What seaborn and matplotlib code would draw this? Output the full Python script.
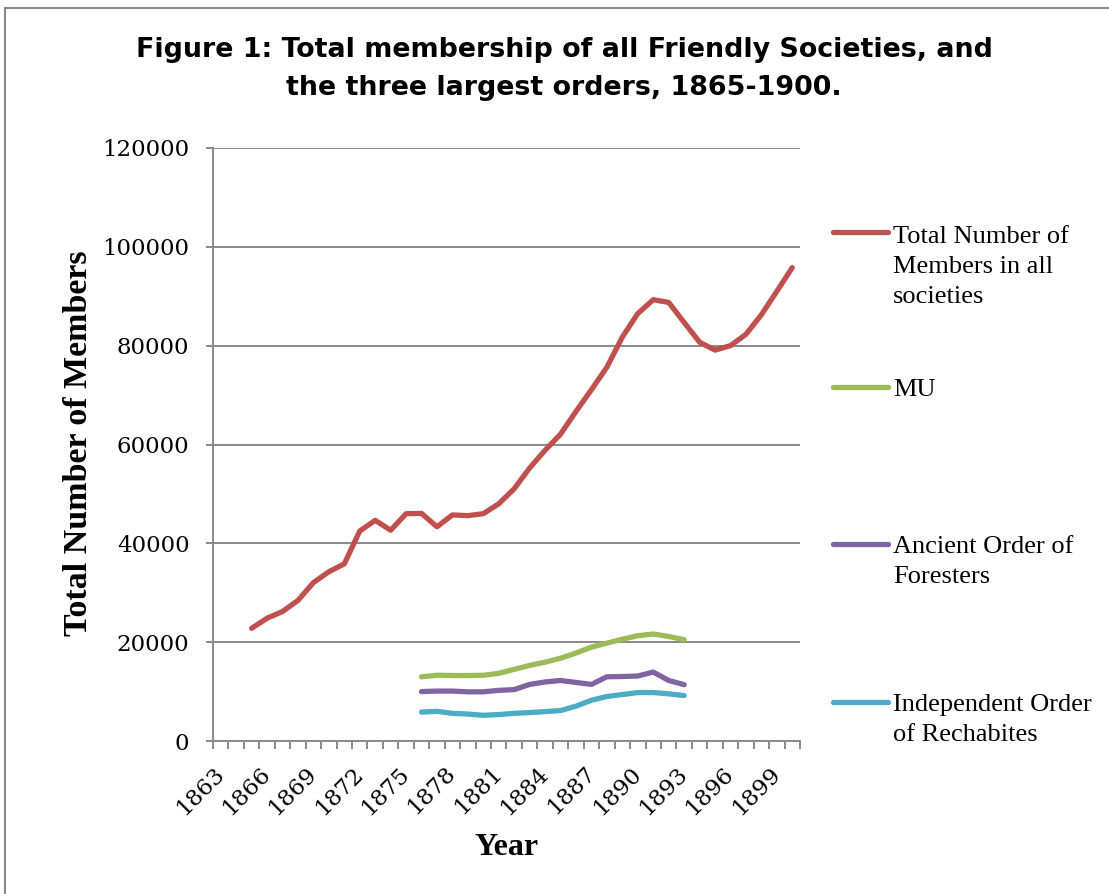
import matplotlib
matplotlib.use("Agg")
import matplotlib.pyplot as plt
import seaborn as sns
import pandas as pd
from matplotlib.lines import Line2D
from matplotlib.patches import Rectangle
from matplotlib.ticker import FixedLocator, MultipleLocator

# ---- data -------------------------------------------------------------
total_years = list(range(1865, 1901))
total_members = [22800, 24850, 26200, 28450, 32050, 34250, 35850, 42500,
                 44650, 42650, 46000, 46050, 43350, 45750, 45600, 46000,
                 48000, 51050, 55250, 58850, 62100, 66700, 71100, 75650,
                 81750, 86500, 89300, 88750, 84700, 80700, 79100, 80000,
                 82300, 86250, 91000, 95800]

order_years = list(range(1876, 1894))
mu_members = [12990, 13300, 13250, 13250, 13300, 13700, 14500, 15300, 15950,
              16750, 17800, 19000, 19800, 20600, 21300, 21650, 21150, 20500]
foresters_members = [10000, 10100, 10100, 9950, 9950, 10250, 10400, 11450,
                     11950, 12250, 11850, 11450, 13000, 13050, 13150, 13950,
                     12250, 11400]
rechabites_members = [5850, 6000, 5600, 5450, 5200, 5350, 5600, 5750, 5950,
                      6150, 7050, 8250, 9000, 9400, 9800, 9800, 9550, 9200]

series_names = ["Total Number of Members in all societies", "MU",
                "Ancient Order of Foresters", "Independent Order of Rechabites"]
legend_labels = ["Total Number of\nMembers in all\nsocieties", "MU",
                 "Ancient Order of\nForesters", "Independent Order\nof Rechabites"]
series_colors = ["#C0504D", "#9BBB59", "#8064A2", "#4BACC6"]

year_ticks = list(range(1863, 1900, 3))
y_ticks = list(range(0, 120001, 20000))

frames = []
for name, yrs, vals in zip(series_names,
                           [total_years, order_years, order_years, order_years],
                           [total_members, mu_members, foresters_members,
                            rechabites_members]):
    frames.append(pd.DataFrame({"Year": yrs, "Members": vals, "Series": name}))
df = pd.concat(frames, ignore_index=True)

# ---- figure -----------------------------------------------------------
W, H = 1109, 894
sns.set_theme(style="white")
plt.rcParams["font.family"] = ["DejaVu Serif"]
plt.rcParams["text.color"] = "black"
plt.rcParams["axes.labelcolor"] = "black"

fig = plt.figure(figsize=(W / 100, H / 100), dpi=100)
fig.patch.set_facecolor("white")

def px(x, y):
    return x / W, 1 - y / H

ax = fig.add_axes([213 / W, 1 - 741 / H, (800 - 213) / W, (741 - 148) / H])

grey = "#898989"
ax.yaxis.grid(True, color=grey, linewidth=1.4)
ax.set_axisbelow(True)

sns.lineplot(data=df, x="Year", y="Members", hue="Series",
             hue_order=series_names, palette=series_colors,
             linewidth=3.8, legend=False, ax=ax,
             solid_capstyle="round", solid_joinstyle="round")

ax.set_xlim(1862.5, 1900.5)
ax.set_ylim(0, 120000)

for side in ("top", "right"):
    ax.spines[side].set_visible(False)
for side in ("left", "bottom"):
    ax.spines[side].set_color(grey)
    ax.spines[side].set_linewidth(1.4)

ax.yaxis.set_major_locator(FixedLocator(y_ticks))
ax.set_yticklabels([str(v) for v in y_ticks])
ax.tick_params(axis="y", which="major", left=True, length=5, width=1.4,
               color=grey, pad=12, labelsize=16.5, labelcolor="black")

ax.xaxis.set_major_locator(FixedLocator(year_ticks))
ax.set_xticklabels([str(y) for y in year_ticks], rotation=45,
                   ha="right", va="center", rotation_mode="anchor")
ax.xaxis.set_minor_locator(MultipleLocator(1, offset=0.5))
ax.tick_params(axis="x", which="major", bottom=True, length=0, pad=21,
               labelsize=16.5, labelcolor="black")
ax.tick_params(axis="x", which="minor", bottom=True, length=6, width=1.4,
               color=grey)

ax.set_xlabel("Year", fontsize=23, fontweight="bold",
              family="Liberation Serif", color="black")
ax.xaxis.set_label_coords((507 - 213) / 587, (741 - 833) / 593)
ax.set_ylabel("Total Number of Members", fontsize=24.5, fontweight="bold",
              family="Liberation Serif", color="black")
ax.yaxis.set_label_coords((94 - 213) / 587, (741 - 443) / 593)

# title (baseline given for the last line)
fig.text(*px(564, 95), "Figure 1: Total membership of all Friendly Societies, and\n"
         "the three largest orders, 1865-1900.", ha="center", va="baseline",
         fontsize=19.4, fontweight="bold", family="DejaVu Sans",
         linespacing=1.6, multialignment="center", color="black")

# legend: handle height and baseline of the last text line
legend_rows = [(232, 303), (387, 396), (544, 583), (702, 741)]
for (hy, by), color, label in zip(legend_rows, series_colors, legend_labels):
    x0, y0 = px(833, hy)
    x1, _ = px(888, hy)
    fig.add_artist(Line2D([x0, x1], [y0, y0], transform=fig.transFigure,
                          color=color, linewidth=3.8, solid_capstyle="round"))
    fig.text(*px(893, by), label, ha="left", va="baseline", fontsize=19,
             family="Liberation Serif", linespacing=1.48, color="black")

# chart frame
fig.add_artist(Rectangle(px(5, 900), 1200 / W, 892 / H,
                         transform=fig.transFigure, fill=False,
                         edgecolor=grey, linewidth=1.5))

fig.savefig("out.png", dpi=100, facecolor="white")
